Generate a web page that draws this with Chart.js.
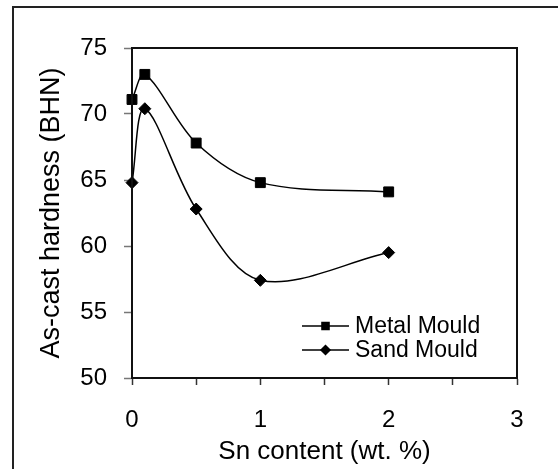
<!DOCTYPE html>
<html>
<head>
<meta charset="utf-8">
<script src="https://cdn.jsdelivr.net/npm/chart.js@4.4.1/dist/chart.umd.min.js"></script>
<style>
    html, body { margin: 0; padding: 0; background: #fff; overflow: hidden; }
    #wrap { position: relative; width: 558px; height: 469px; }
    #frame {
        position: absolute; left: 12px; top: 6px; width: 600px; height: 500px;
        border-left: 2px solid #222; border-top: 2px solid #222;
    }
    #chart { position: absolute; left: 0; top: 0; }
</style>
</head>
<body>
<div id="wrap">
    <div id="frame"></div>
    <canvas id="chart" width="558" height="469"></canvas>
</div>
<script>
// Data
const snContent = [0, 0.1, 0.5, 1, 2];
const metalMould = [71.1, 73.0, 67.8, 64.8, 64.1];
const sandMould = [64.8, 70.4, 62.8, 57.4, 59.5];
const seriesLabels = ['Metal Mould', 'Sand Mould'];
const yTicks = [50, 55, 60, 65, 70, 75];
const xTicks = [0, 1, 2, 3];

const FONT = "'Liberation Sans', Arial, sans-serif";

// Box around the plot area
const plotFrame = {
    id: 'plotFrame',
    afterDatasetsDraw(chart) {
        const { ctx, chartArea: a } = chart;
        ctx.save();
        ctx.strokeStyle = '#111';
        ctx.lineWidth = 2;
        ctx.strokeRect(Math.round(a.left), Math.round(a.top), Math.round(a.right - a.left), Math.round(a.bottom - a.top));
        ctx.restore();
    }
};

// Legend sitting inside the plot, bottom right
const innerLegend = {
    id: 'innerLegend',
    afterDraw(chart) {
        const { ctx } = chart;
        const x0 = 302, x1 = 349, tx = 355;
        const rows = [326, 350];
        ctx.save();
        chart.data.datasets.forEach((ds, i) => {
            const y = rows[i];
            ctx.strokeStyle = '#000';
            ctx.lineWidth = 1.5;
            ctx.beginPath();
            ctx.moveTo(x0, y);
            ctx.lineTo(x1, y);
            ctx.stroke();
            ctx.fillStyle = '#000';
            Chart.helpers.drawPoint(ctx, {
                pointStyle: ds.pointStyle,
                radius: ds.pointStyle === 'rect' ? 5 : 4.5,
                rotation: 0,
                borderWidth: 1
            }, (x0 + x1) / 2, y);
            ctx.fill();
            ctx.font = '23px ' + FONT;
            ctx.textBaseline = 'middle';
            ctx.textAlign = 'left';
            ctx.fillText(ds.label, tx, y + 1);
        });
        ctx.restore();
    }
};

const lineStyle = {
    borderColor: '#000',
    backgroundColor: '#000',
    pointBackgroundColor: '#000',
    pointBorderColor: '#000',
    borderWidth: 1.5,
    pointBorderWidth: 1,
    tension: 0.33,
    fill: false,
    clip: false
};

new Chart(document.getElementById('chart').getContext('2d'), {
    type: 'line',
    data: {
        datasets: [{
            ...lineStyle,
            label: seriesLabels[0],
            data: snContent.map((x, i) => ({ x, y: metalMould[i] })),
            pointStyle: 'rect',
            pointRadius: 7
        }, {
            ...lineStyle,
            label: seriesLabels[1],
            data: snContent.map((x, i) => ({ x, y: sandMould[i] })),
            pointStyle: 'rectRot',
            pointRadius: 6
        }]
    },
    options: {
        responsive: false,
        animation: false,
        layout: { padding: { left: 0, top: 48, right: 41, bottom: 0 } },
        plugins: {
            legend: { display: false },
            tooltip: { enabled: false }
        },
        scales: {
            x: {
                type: 'linear',
                min: 0,
                max: 3,
                afterFit: (scale) => { scale.height = 91; },
                afterBuildTicks: (scale) => {
                    const t = [];
                    for (let v = 0; v <= 3; v += 0.5) t.push({ value: v });
                    scale.ticks = t;
                },
                ticks: {
                    autoSkip: false,
                    maxRotation: 0,
                    padding: 21,
                    color: '#000',
                    font: { family: FONT, size: 24 },
                    callback: (v) => xTicks.includes(v) ? String(v) : ''
                },
                grid: { drawOnChartArea: false, tickLength: 7, tickColor: '#333', tickWidth: 1.5 },
                border: { color: '#111', width: 2 },
                title: {
                    display: true,
                    text: 'Sn content (wt. %)',
                    color: '#000',
                    font: { family: FONT, size: 26, lineHeight: 1 },
                    padding: { top: 0, bottom: 4 }
                }
            },
            y: {
                min: 50,
                max: 75,
                afterFit: (scale) => { scale.width = 132; },
                afterBuildTicks: (scale) => {
                    scale.ticks = yTicks.map(v => ({ value: v }));
                },
                ticks: {
                    padding: 17,
                    color: '#000',
                    font: { family: FONT, size: 24 }
                },
                grid: { drawOnChartArea: false, tickLength: 8, tickColor: '#777', tickWidth: 1.5 },
                border: { color: '#111', width: 2 },
                title: {
                    display: true,
                    text: 'As-cast hardness (BHN)',
                    color: '#000',
                    font: { family: FONT, size: 27, lineHeight: 1 },
                    padding: { top: 38, bottom: 0 }
                }
            }
        }
    },
    plugins: [plotFrame, innerLegend]
});
</script>
</body>
</html>
